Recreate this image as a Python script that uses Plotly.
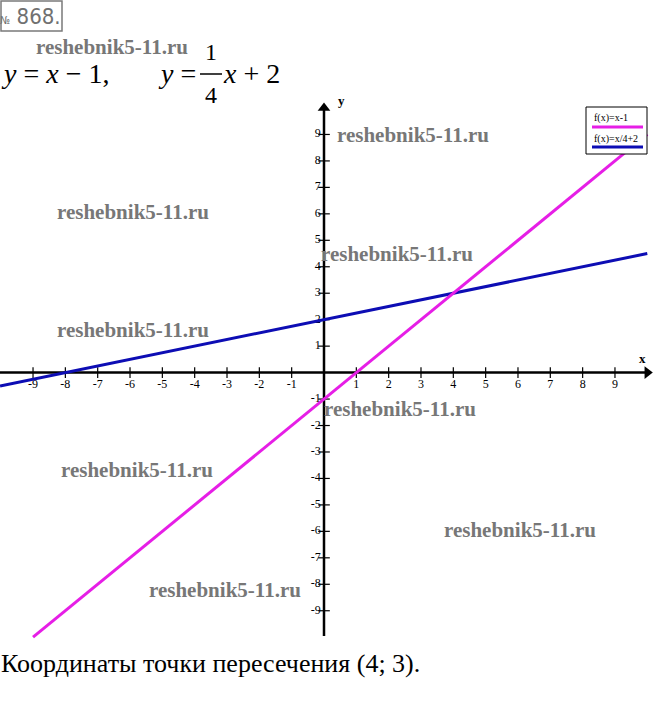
import plotly.graph_objects as go

W, H = 660, 708
# pixel mapping (origin and unit sizes)
OX, OY, UX, UY = 324.0, 372.6, 32.33, 26.46
XR = [(0 - OX) / UX, (W - OX) / UX]
YR = [(OY - H) / UY, OY / UY]

# data
x_ticks = [-9, -8, -7, -6, -5, -4, -3, -2, -1, 1, 2, 3, 4, 5, 6, 7, 8, 9]
y_ticks = [-9, -8, -7, -6, -5, -4, -3, -2, -1, 1, 2, 3, 4, 5, 6, 7, 8, 9]
line1_x = [-9.0, 10.0]          # y = x - 1
line1_y = [x - 1 for x in line1_x]
line2_x = [-10.02, 10.0]        # y = x/4 + 2
line2_y = [x / 4 + 2 for x in line2_x]
legend_labels = ["f(x)=x-1", "f(x)=x/4+2"]
line_colors = ["#e61ee6", "#0d0db4"]
intersection = (4, 3)
watermark = "reshebnik5-11.ru"
watermark_pos = [(112, 47), (413, 135), (133, 212), (397, 254), (133, 330),
                 (400, 409), (137, 470), (520, 530), (225, 590)]


def px(x):
    return x / W


def py(y):
    return 1 - y / H


def A(x, y, text, size, color="black", family="Liberation Serif", xa="center", ya="middle"):
    return dict(x=px(x), y=py(y), xref="paper", yref="paper", text=text, showarrow=False,
                xanchor=xa, yanchor=ya, borderpad=0,
                font=dict(family=family, size=size, color=color))


fig = go.Figure()

# axes
fig.add_trace(go.Scatter(x=[XR[0], 9.95], y=[0, 0], mode="lines",
                         line=dict(color="black", width=2.5), hoverinfo="skip"))
fig.add_trace(go.Scatter(x=[0, 0], y=[-9.95, 9.95], mode="lines",
                         line=dict(color="black", width=2.5), hoverinfo="skip"))
# arrowheads
fig.add_trace(go.Scatter(x=[10.0], y=[0], mode="markers",
                         marker=dict(symbol="triangle-right", size=11, color="black"),
                         hoverinfo="skip"))
fig.add_trace(go.Scatter(x=[0], y=[10.0], mode="markers",
                         marker=dict(symbol="triangle-up", size=11, color="black"),
                         hoverinfo="skip"))

# tick marks
tx, ty = [], []
for v in x_ticks:
    tx += [v, v, None]
    ty += [-0.2, 0.2, None]
for v in y_ticks:
    tx += [-0.18, 0.18, None]
    ty += [v, v, None]
fig.add_trace(go.Scatter(x=tx, y=ty, mode="lines",
                         line=dict(color="black", width=1.2), hoverinfo="skip"))

# tick labels
fig.add_trace(go.Scatter(x=x_ticks, y=[-0.45] * len(x_ticks), mode="text",
                         text=[str(v) for v in x_ticks], textposition="middle center",
                         textfont=dict(family="Liberation Serif", size=12, color="black"),
                         hoverinfo="skip"))
fig.add_trace(go.Scatter(x=[-0.1] * len(y_ticks), y=y_ticks, mode="text",
                         text=[str(v) for v in y_ticks], textposition="middle left",
                         textfont=dict(family="Liberation Serif", size=12, color="black"),
                         hoverinfo="skip"))

# function lines
fig.add_trace(go.Scatter(x=line2_x, y=line2_y, mode="lines",
                         line=dict(color=line_colors[1], width=3), hoverinfo="skip"))
fig.add_trace(go.Scatter(x=line1_x, y=line1_y, mode="lines",
                         line=dict(color=line_colors[0], width=3), hoverinfo="skip"))

ann = []
# axis names
ann.append(dict(x=0.55, y=10.3, xref="x", yref="y", text="<b>y</b>", showarrow=False,
                xanchor="center", yanchor="middle",
                font=dict(family="Liberation Serif", size=13, color="black")))
ann.append(dict(x=9.85, y=0.55, xref="x", yref="y", text="<b>x</b>", showarrow=False,
                xanchor="center", yanchor="middle",
                font=dict(family="Liberation Serif", size=13, color="black")))

# watermarks
for (wx, wy) in watermark_pos:
    ann.append(A(wx, wy, "<b>" + watermark + "</b>", 21, color="#777777"))

# header
ann.append(A(31, 16, "<span style='font-size:11px'>№</span> 868.", 22,
             color="#707070", family="DejaVu Sans Condensed"))
# equations
ann.append(A(0, 74, "<i>y</i> = <i>x</i> − 1,", 28, xa="left"))
ann.append(A(157, 74, "<i>y</i> =", 28, xa="left"))
ann.append(A(211, 52, "1", 24))
ann.append(A(211, 95, "4", 24))
ann.append(A(222, 74, "<i>x</i> + 2", 28, xa="left"))

# legend
ann.append(A(593, 118, legend_labels[0], 10, xa="left"))
ann.append(A(593, 139, legend_labels[1], 10, xa="left"))

# conclusion
ann.append(A(0, 663, "Координаты точки пересечения (%d; %d)." % intersection, 26, xa="left"))

shapes = [
    dict(type="rect", xref="paper", yref="paper", x0=px(1), x1=px(62), y0=py(1), y1=py(31),
         line=dict(color="#7a7a7a", width=1.5)),
    dict(type="line", xref="paper", yref="paper", x0=px(200), x1=px(222), y0=py(74), y1=py(74),
         line=dict(color="black", width=1.5)),
    dict(type="rect", xref="paper", yref="paper", x0=px(586), x1=px(647), y0=py(107), y1=py(154),
         line=dict(color="black", width=1), fillcolor="white", layer="above"),
    dict(type="line", xref="paper", yref="paper", x0=px(592), x1=px(643), y0=py(127), y1=py(127),
         line=dict(color=line_colors[0], width=3), layer="above"),
    dict(type="line", xref="paper", yref="paper", x0=px(592), x1=px(643), y0=py(147), y1=py(147),
         line=dict(color=line_colors[1], width=3), layer="above"),
]

fig.update_layout(
    width=W, height=H, margin=dict(l=0, r=0, t=0, b=0),
    paper_bgcolor="white", plot_bgcolor="white", showlegend=False,
    xaxis=dict(range=XR, visible=False, fixedrange=True),
    yaxis=dict(range=YR, visible=False, fixedrange=True),
    annotations=ann, shapes=shapes,
)

fig.write_html("out.html", config={"displayModeBar": False},
               post_script="document.body.style.margin='0';document.body.style.overflow='hidden';")
